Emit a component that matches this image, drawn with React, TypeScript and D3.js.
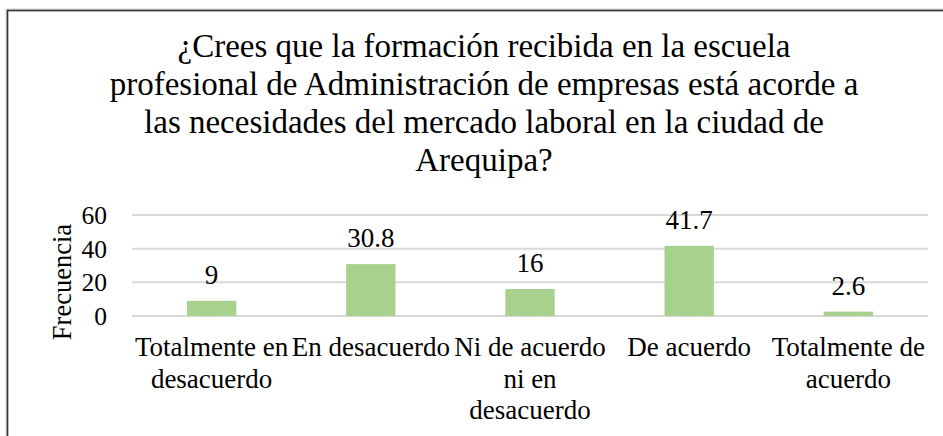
import React from 'react';
import * as d3 from 'd3';

const categories = [
  'Totalmente en desacuerdo',
  'En desacuerdo',
  'Ni de acuerdo ni en desacuerdo',
  'De acuerdo',
  'Totalmente de acuerdo'
];
// how the category labels wrap in the original
const categoryLines = [
  ['Totalmente en', 'desacuerdo'],
  ['En desacuerdo'],
  ['Ni de acuerdo', 'ni en', 'desacuerdo'],
  ['De acuerdo'],
  ['Totalmente de', 'acuerdo']
];
const values = [9, 30.8, 16, 41.7, 2.6];
const yTicks = [0, 20, 40, 60];
const titleLines = [
  '¿Crees que la formación recibida en la escuela',
  'profesional de Administración de empresas está acorde a',
  'las necesidades del mercado laboral en la ciudad de',
  'Arequipa?'
];
const yTitle = 'Frecuencia';

const WIDTH = 943;
const HEIGHT = 436;
const FONT = 'Liberation Serif';

const plot = { left: 132, right: 928, top: 215, bottom: 316 };

export default function App() {
  const x = d3
    .scaleBand()
    .domain(categories)
    .range([plot.left, plot.right])
    .paddingInner(0.69)
    .paddingOuter(0.345);

  const y = d3.scaleLinear().domain([0, 60]).range([plot.bottom, plot.top]);

  const txt = { fontFamily: FONT };

  return (
    <svg
      width={WIDTH}
      height={HEIGHT}
      style={{ position: 'absolute', left: 0, top: 0, background: '#fff' }}
    >
      {/* frame */}
      <rect x={7} y={10} width={WIDTH} height={HEIGHT} fill="none" stroke="#d0d0d0" strokeWidth={3} />
      <rect x={7.5} y={10.5} width={WIDTH} height={HEIGHT} fill="none" stroke="#333" strokeWidth={1.5} />

      {/* title */}
      <g>
        {titleLines.map((t, i) => (
          <text key={i} x={484} y={57 + i * 38} fontSize={33} textAnchor="middle" fill="#000" style={txt}>
            {t}
          </text>
        ))}
      </g>

      {/* grid + y ticks */}
      <g className="y-axis">
        {yTicks.map(t => (
          <g key={t} transform={`translate(0,${y(t)})`}>
            <line x1={plot.left} x2={plot.right} stroke="#d9d9d9" strokeWidth={2} />
            <text x={107} y={0} dy="0.35em" fontSize={25.5} textAnchor="end" fill="#000" style={txt}>
              {t}
            </text>
          </g>
        ))}
      </g>

      {/* y title */}
      <text
        transform={`translate(71,282) rotate(-90)`}
        fontSize={26.5}
        textAnchor="middle"
        fill="#000"
        style={txt}
      >
        {yTitle}
      </text>

      {/* bars */}
      <g>
        {categories.map((c, i) => (
          <g key={c}>
            <rect
              x={x(c)}
              y={y(values[i])}
              width={x.bandwidth()}
              height={y(0) - y(values[i])}
              fill="#a9d18e"
            />
            <text
              x={(x(c) || 0) + x.bandwidth() / 2}
              y={y(values[i]) - 17}
              fontSize={27}
              textAnchor="middle"
              fill="#000"
              style={txt}
            >
              {values[i]}
            </text>
          </g>
        ))}
      </g>

      {/* category labels */}
      <g>
        {categories.map((c, i) => {
          const cx = (x(c) || 0) + x.bandwidth() / 2;
          return (
            <text key={c} x={cx} y={356} fontSize={27} textAnchor="middle" fill="#000" style={txt}>
              {categoryLines[i].map((l, j) => (
                <tspan key={j} x={cx} dy={j === 0 ? 0 : 31.5}>
                  {l}
                </tspan>
              ))}
            </text>
          );
        })}
      </g>
    </svg>
  );
}
